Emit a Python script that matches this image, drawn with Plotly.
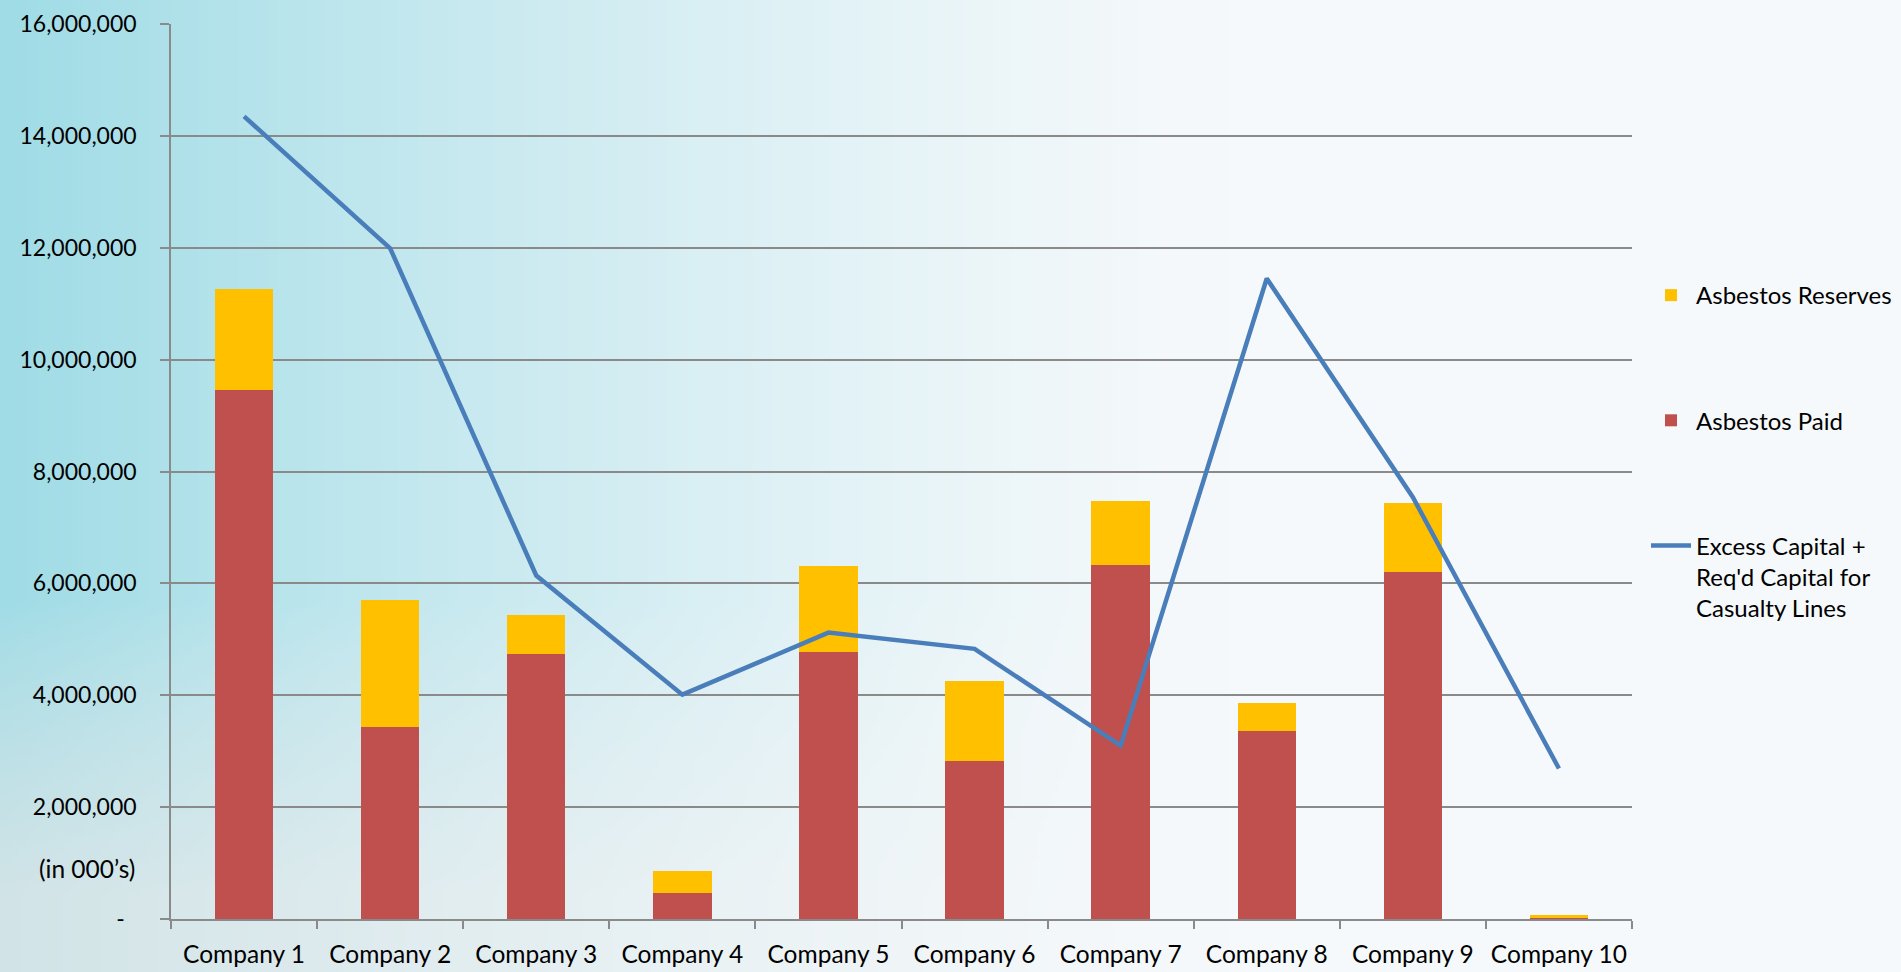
import base64
import struct
import zlib

import numpy as np
import plotly.graph_objects as go

# ---------------- data ----------------
companies = ["Company 1", "Company 2", "Company 3", "Company 4", "Company 5",
             "Company 6", "Company 7", "Company 8", "Company 9", "Company 10"]
asbestos_paid = [9.45e6, 3.43e6, 4.73e6, 0.47e6, 4.77e6, 2.82e6, 6.33e6, 3.36e6, 6.20e6, 0.02e6]
asbestos_reserves = [1.82e6, 2.27e6, 0.71e6, 0.38e6, 1.54e6, 1.43e6, 1.15e6, 0.50e6, 1.24e6, 0.05e6]
excess_capital = [14.35e6, 11.99e6, 6.14e6, 4.01e6, 5.12e6, 4.83e6, 3.10e6, 11.45e6, 7.54e6, 2.69e6]
y_tick_values = [0, 2e6, 4e6, 6e6, 8e6, 10e6, 12e6, 14e6, 16e6]
y_tick_labels = ["-\u00a0\u00a0", "2,000,000", "4,000,000", "6,000,000", "8,000,000",
                 "10,000,000", "12,000,000", "14,000,000", "16,000,000"]
unit_note = "(in 000\u2019s)"

# ---------------- layout geometry ----------------
W, H = 1901, 972
L, R, T, B = 171, 269, 24, 53
PW, PH = W - L - R, H - T - B

FONT = "Lato, 'Open Sans', sans-serif"
GRID = "#8a8a8a"


# ---------------- background image (soft cyan wash) ----------------
def png_data_uri(arr):
    h, w, _ = arr.shape
    raw = b"".join(b"\x00" + arr[i].tobytes() for i in range(h))

    def chunk(t, d):
        c = struct.pack(">I", len(d)) + t + d
        return c + struct.pack(">I", zlib.crc32(t + d) & 0xFFFFFFFF)

    png = (b"\x89PNG\r\n\x1a\n"
           + chunk(b"IHDR", struct.pack(">IIBBBBB", w, h, 8, 2, 0, 0, 0))
           + chunk(b"IDAT", zlib.compress(raw, 9))
           + chunk(b"IEND", b""))
    return "data:image/png;base64," + base64.b64encode(png).decode()


iw, ih = 380, 194
u = np.linspace(0, 1, iw)[None, :]
v = np.linspace(0, 1, ih)[:, None]
cyan = np.array([160, 220, 230], float)
white = np.array([246, 249, 251], float)
gray = np.array([218, 229, 231], float)
t = np.clip(u * 1.55, 0, 1)
s = (1 - t) ** 1.3
bottom = np.clip((v - 0.62) / 0.3, 0, 1) ** 0.8
s_c = s * (1 - 0.85 * bottom)
s_g = s * 0.85 * bottom
img = white[None, None, :] + s_c[..., None] * (cyan - white) + s_g[..., None] * (gray - white)
img = np.clip(img, 0, 255).astype(np.uint8)
bg_uri = png_data_uri(img)

# ---------------- figure ----------------
fig = go.Figure()
fig.add_trace(go.Bar(
    x=companies, y=asbestos_paid, name="Asbestos Paid",
    marker=dict(color="#C0504D", line=dict(width=0)),
    legendgroup="paid", legendrank=2,
))
fig.add_trace(go.Bar(
    x=companies, y=asbestos_reserves, name="Asbestos Reserves",
    marker=dict(color="#FFC000", line=dict(width=0)),
    legendgroup="reserves", legendrank=1,
))
fig.add_trace(go.Scatter(
    x=companies, y=excess_capital, mode="lines",
    name="Excess Capital +<br>Req'd Capital for<br>Casualty Lines",
    line=dict(color="#4A7EBB", width=4.5),
    legendgroup="excess", legendrank=3,
))

fig.update_layout(
    width=W, height=H,
    margin=dict(l=L, r=R, t=T, b=B, pad=0, autoexpand=False),
    paper_bgcolor="white",
    plot_bgcolor="rgba(0,0,0,0)",
    barmode="stack",
    bargap=0.6,
    font=dict(family=FONT, size=24, color="black"),
    showlegend=True,
    legend=dict(
        x=(1646 - L) / PW, xanchor="left",
        y=(H - B - 273) / PH, yanchor="top",
        bgcolor="rgba(0,0,0,0)",
        font=dict(family=FONT, size=24, color="black"),
        tracegroupgap=91,
        valign="top",
        itemwidth=40,
    ),
    images=[dict(
        source=bg_uri, xref="paper", yref="paper",
        x=-L / PW, y=1 + T / PH, sizex=W / PW, sizey=H / PH,
        xanchor="left", yanchor="top", sizing="stretch", layer="below",
    )],
    annotations=[dict(
        text=unit_note, xref="paper", yref="y", x=0, y=0.9e6,
        xanchor="right", yanchor="middle", xshift=-34, showarrow=False,
        font=dict(family=FONT, size=24.5, color="black"),
    )],
)

fig.update_xaxes(
    type="category",
    showline=True, linecolor=GRID, linewidth=1.5,
    ticks="outside", ticklen=8, tickcolor=GRID, tickwidth=1.5,
    tickson="boundaries",
    tickangle=0,
    automargin=False,
    showgrid=False,
    tickfont=dict(family=FONT, size=24.5, color="black"),
    ticklabelstandoff=13,
)
fig.update_yaxes(
    range=[0, 16e6],
    tickvals=y_tick_values, ticktext=y_tick_labels,
    showline=True, linecolor=GRID, linewidth=1.5,
    ticks="outside", ticklen=9, tickcolor=GRID, tickwidth=1.5,
    showgrid=True, gridcolor=GRID, gridwidth=1.5,
    zeroline=False,
    automargin=False,
    tickfont=dict(family=FONT, size=23, color="black"),
    ticklabelstandoff=19,
)

fig.write_html(
    "out.html",
    config={"displayModeBar": False},
    post_script="document.body.style.margin='0';document.body.style.overflow='hidden';",
)
